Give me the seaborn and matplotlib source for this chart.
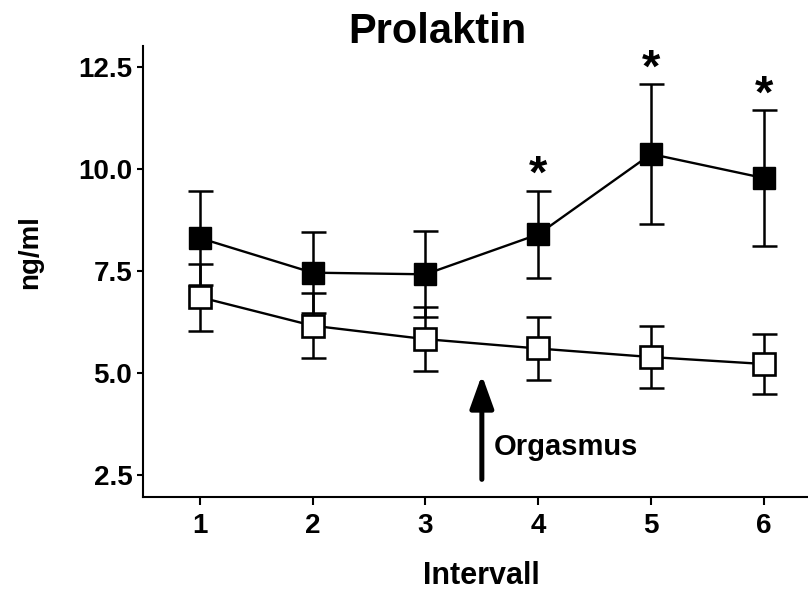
import matplotlib
matplotlib.use("Agg")
import matplotlib.pyplot as plt
import seaborn as sns

# ---- data ----
intervals = [1, 2, 3, 4, 5, 6]
prl_orgasm = [8.31, 7.46, 7.42, 8.40, 10.37, 9.78]
sem_orgasm = [1.16, 1.00, 1.05, 1.07, 1.71, 1.66]
prl_control = [6.86, 6.16, 5.83, 5.60, 5.39, 5.22]
sem_control = [0.82, 0.80, 0.79, 0.78, 0.76, 0.74]
significant = [4, 5, 6]
y_ticks = [2.5, 5.0, 7.5, 10.0, 12.5]
arrow_x = 3.5

sns.set_style("ticks")
plt.rcParams["font.family"] = ["Liberation Sans", "DejaVu Sans"]
plt.rcParams["font.weight"] = "bold"
for k in ["text.color", "axes.labelcolor", "xtick.color", "ytick.color", "axes.edgecolor"]:
    plt.rcParams[k] = "black"

fig = plt.figure(figsize=(8.08, 5.91), dpi=100)
ax = fig.add_axes([143.3 / 808, 1 - 497.3 / 591, (808 - 143.3) / 808, (497.3 - 46) / 591])

# orgasm session (filled squares)
ax.errorbar(intervals, prl_orgasm, yerr=sem_orgasm, fmt="none", ecolor="black",
            elinewidth=1.8, capsize=9, capthick=1.8, zorder=2)
sns.lineplot(x=intervals, y=prl_orgasm, ax=ax, color="black", lw=1.7, marker="s",
             markersize=15.5, markerfacecolor="black", markeredgecolor="black",
             markeredgewidth=1.0, zorder=3)

# control session (open squares)
ax.errorbar(intervals, prl_control, yerr=sem_control, fmt="none", ecolor="black",
            elinewidth=1.8, capsize=9, capthick=1.8, zorder=4)
sns.lineplot(x=intervals, y=prl_control, ax=ax, color="black", lw=1.7, marker="s",
             markersize=15.3, markerfacecolor="white", markeredgecolor="black",
             markeredgewidth=1.9, zorder=5)

# significance asterisks
for xi in significant:
    i = intervals.index(xi)
    top = prl_orgasm[i] + sem_orgasm[i]
    ax.annotate("*", xy=(xi, top), xytext=(0, 2), textcoords="offset points",
                ha="center", va="baseline", fontsize=34, fontweight="bold")

# orgasm arrow
ax.annotate("", xy=(arrow_x, 4.95), xytext=(arrow_x, 2.39),
            arrowprops=dict(arrowstyle="-|>,head_length=1.0,head_width=0.36",
                            lw=3.6, color="black", shrinkA=0, shrinkB=0,
                            mutation_scale=20))
ax.text(3.607, 2.99, "Orgasmus", ha="left", va="baseline", fontsize=21, fontweight="bold")

ax.set_xlim(0.5, 6.39)
ax.set_ylim(1.95, 13.02)
ax.set_xticks(intervals)
ax.set_yticks(y_ticks)
ax.set_yticklabels([f"{v:.1f}" for v in y_ticks])

for s in ["top", "right"]:
    ax.spines[s].set_visible(False)
for s in ["left", "bottom"]:
    ax.spines[s].set_linewidth(1.5)
    ax.spines[s].set_color("black")

ax.tick_params(axis="y", length=4.3, width=1.5, pad=3.6, labelsize=20, colors="black")
ax.tick_params(axis="x", length=5.5, width=1.5, pad=6, labelsize=20, colors="black")
for lab in ax.get_xticklabels() + ax.get_yticklabels():
    lab.set_fontweight("bold")

ax.set_title("Prolaktin", x=(437.5 - 143.3) / 664.7, y=(497.3 - 43) / 451.3, va="baseline",
             pad=0, fontsize=30, fontweight="bold", color="black")
ax.set_xlabel("Intervall", fontsize=22, fontweight="bold", va="baseline")
ax.xaxis.set_label_coords((481.7 - 143.3) / 664.7, -(584.5 - 497.3) / 451.3)
ax.set_ylabel("ng/ml", fontsize=20, fontweight="bold", va="center")
ax.yaxis.set_label_coords((30 - 143.3) / 664.7, (497.3 - 252) / 451.3)

fig.savefig("out.png", dpi=100)
